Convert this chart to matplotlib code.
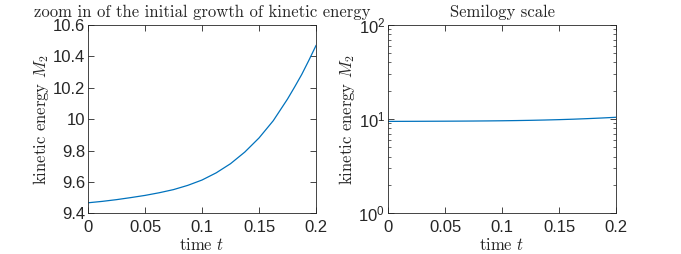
import matplotlib
matplotlib.use("Agg")
import matplotlib.pyplot as plt
from matplotlib.ticker import LogLocator, LogFormatterSciNotation, NullFormatter

# kinetic energy M_2
t = [0.0, 0.0125, 0.025, 0.0375, 0.05, 0.0625, 0.075, 0.0875, 0.1,
     0.1125, 0.125, 0.1375, 0.15, 0.1625, 0.175, 0.18125, 0.1875,
     0.19375, 0.2]
m2 = [9.467, 9.476, 9.487, 9.500, 9.514, 9.531, 9.551, 9.578, 9.612,
      9.658, 9.716, 9.790, 9.880, 9.990, 10.128, 10.205, 10.285,
      10.375, 10.469]

xticks = [0, 0.05, 0.1, 0.15, 0.2]
xticklabels = ["0", "0.05", "0.1", "0.15", "0.2"]
yticks_lin = [9.4, 9.6, 9.8, 10, 10.2, 10.4, 10.6]
yticklabels_lin = ["9.4", "9.6", "9.8", "10", "10.2", "10.4", "10.6"]

plt.rcParams.update({
    "font.family": ["Liberation Sans", "DejaVu Sans"],
    "font.size": 12,
    "mathtext.fontset": "cm",
    "axes.edgecolor": "#262626",
    "axes.linewidth": 0.6,
    "xtick.color": "#262626",
    "ytick.color": "#262626",
    "xtick.direction": "in",
    "ytick.direction": "in",
    "xtick.top": True,
    "ytick.right": True,
})

LINE = "#0072BD"
TXT = dict(fontfamily="cmr10", fontsize=12, color="#262626")

fig = plt.figure(figsize=(6.81, 2.54), dpi=100)
W, H = 681, 254
ax1 = fig.add_axes([88 / W, (H - 213.3) / H, 228 / W, 188.3 / H])
ax2 = fig.add_axes([388 / W, (H - 213.3) / H, 228 / W, 188.3 / H])

ax1.plot(t, m2, color=LINE, lw=0.9)
ax1.set_xlim(0, 0.2)
ax1.set_ylim(9.4, 10.6)
ax1.set_yticks(yticks_lin)
ax1.set_yticklabels(yticklabels_lin)
ax1.set_title("zoom in of the initial growth of kinetic energy", pad=6, **TXT)

ax2.semilogy(t, m2, color=LINE, lw=0.9)
ax2.set_xlim(0, 0.2)
ax2.set_ylim(1, 100)
ax2.yaxis.set_major_locator(LogLocator(base=10, numticks=5))
ax2.yaxis.set_major_formatter(LogFormatterSciNotation())
ax2.yaxis.set_minor_locator(LogLocator(base=10, subs=range(2, 10), numticks=20))
ax2.yaxis.set_minor_formatter(NullFormatter())
ax2.set_title("Semilogy scale", pad=6, **TXT)

for ax in (ax1, ax2):
    ax.set_xticks(xticks)
    ax.set_xticklabels(xticklabels)
    ax.set_xlabel("time $t$", labelpad=1, **TXT)
    ax.set_ylabel("kinetic energy $M_2$", labelpad=1, **TXT)
    ax.tick_params(which="major", length=4, width=0.6)
    ax.tick_params(which="minor", length=2, width=0.5)
    ax.tick_params(axis="y", pad=2)
    ax.tick_params(axis="x", pad=5)

fig.savefig("out.png", dpi=100)
